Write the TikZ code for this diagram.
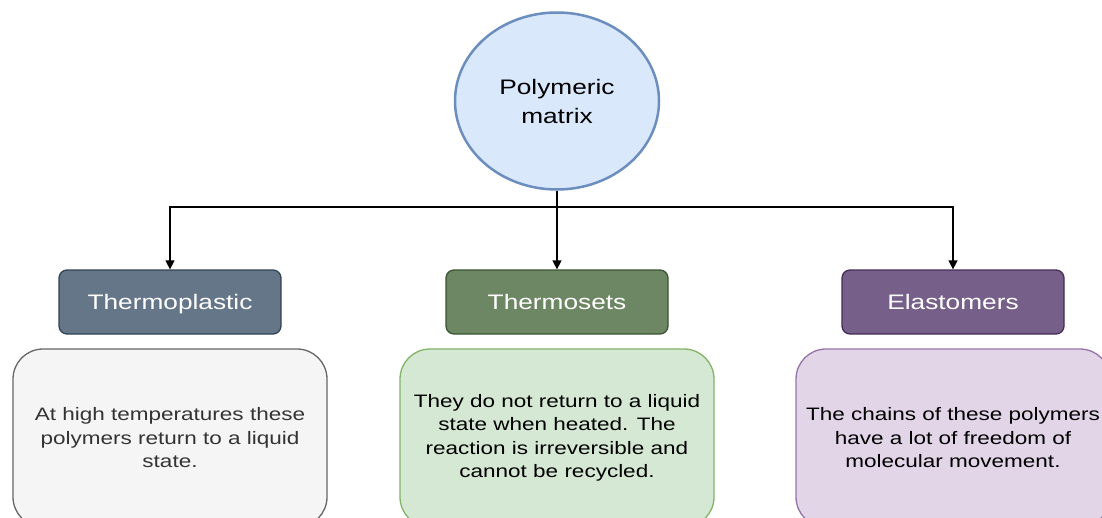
\documentclass[tikz,border=0pt]{standalone}
\usepackage{fontspec}
\setmainfont{Liberation Sans}[FakeStretch=1.25]
\usetikzlibrary{shapes.geometric,arrows.meta}
\definecolor{pmfill}{HTML}{DAE8FC}
\definecolor{pmdraw}{HTML}{6C8EBF}
\definecolor{tpfill}{HTML}{647687}
\definecolor{tpdraw}{HTML}{314354}
\definecolor{tsfill}{HTML}{6D8764}
\definecolor{tsdraw}{HTML}{3A5431}
\definecolor{elfill}{HTML}{76608A}
\definecolor{eldraw}{HTML}{432D57}
\definecolor{tpnfill}{HTML}{F5F5F5}
\definecolor{tpndraw}{HTML}{666666}
\definecolor{tsnfill}{HTML}{D5E8D4}
\definecolor{tsndraw}{HTML}{82B366}
\definecolor{elnfill}{HTML}{E1D5E7}
\definecolor{elndraw}{HTML}{9673A6}
\begin{document}
\begin{tikzpicture}[x=1pt,y=-1pt]
        \tikzset{head/.style = {shape=ellipse,draw=pmdraw,fill=pmfill,line width=2.5pt,
            minimum width=204pt,minimum height=177pt,inner sep=0pt,align=center,
            font=\fontsize{21}{29}\selectfont}}
        \tikzset{group/.style = {shape=rectangle,rounded corners=8pt,line width=1.3pt,
            minimum width=222pt,minimum height=64pt,text=white,
            text height=15pt,text depth=0pt,
            font=\fontsize{21}{25}\selectfont}}
        \tikzset{note/.style = {shape=rectangle,rounded corners=30pt,line width=1.3pt,
            minimum width=314pt,minimum height=178pt,align=center,
            font=\fontsize{18}{23.5}\selectfont}}
        \tikzset{edge/.style = {line width=1.4pt,-{Triangle[length=9pt,width=9pt]}}}
        \useasboundingbox (0,0) rectangle (1102,517);
        % top of the tree
        \node[head] (pm) at (557,101) {Polymeric\\matrix};
        \coordinate (split) at (557,207);
        % the three kinds
        \node[group,draw=tpdraw,fill=tpfill] (tp) at (170,302) {Thermoplastic};
        \node[group,draw=tsdraw,fill=tsfill] (ts) at (557,302) {Thermosets};
        \node[group,draw=eldraw,fill=elfill] (el) at (953,302) {Elastomers};
        % notes under each kind
        \node[note,draw=tpndraw,fill=tpnfill,text=black!80] (tpn) at (170,438)
            {At high temperatures these\\polymers return to a liquid\\state.};
        \node[note,draw=tsndraw,fill=tsnfill] (tsn) at (557,438)
            {They do not return to a liquid\\state when heated. The\\reaction is irreversible and\\cannot be recycled.};
        \node[note,draw=elndraw,fill=elnfill] (eln) at (953,438)
            {The chains of these polymers\\have a lot of freedom of\\molecular movement.};
        % connectors
        \draw[line width=1.4pt] (pm) -- (split);
        \draw[edge] (split) -| (tp);
        \draw[edge] (split) -- (ts);
        \draw[edge] (split) -| (el);
        \end{tikzpicture}
\end{document}
